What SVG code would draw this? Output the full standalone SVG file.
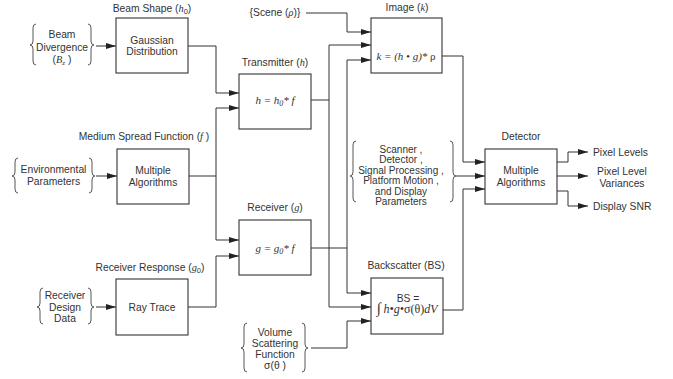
<svg xmlns="http://www.w3.org/2000/svg" width="673" height="379" viewBox="0 0 673 379">
<defs>
<marker id="ah" viewBox="0 0 10 6" refX="10" refY="3" markerWidth="10" markerHeight="6" markerUnits="userSpaceOnUse" orient="auto">
<path d="M0,0 L10,3 L0,6 z" fill="#222"/>
</marker>
<style>
.box{fill:#fff;stroke:#333;stroke-width:1.1}
.ln{fill:none;stroke:#333;stroke-width:1}
.ar{fill:none;stroke:#333;stroke-width:1;marker-end:url(#ah)}
.br{fill:none;stroke:#444;stroke-width:0.9}
.t{font-family:"Liberation Sans",Arial,sans-serif;font-size:10.3px;fill:#333;text-anchor:middle}
.ts{font-family:"Liberation Sans",Arial,sans-serif;font-size:10px;fill:#333;text-anchor:middle}
.tl{font-family:"Liberation Sans",Arial,sans-serif;font-size:10.3px;fill:#333;text-anchor:start}
.m{font-family:"Liberation Serif","Times New Roman",serif;font-size:11px;fill:#333;text-anchor:middle;font-style:italic}
.i{font-family:"Liberation Serif","Times New Roman",serif;font-style:italic}
</style>
</defs>

<g id="connectors">
<path class="ar" d="M96,46 H116"/>
<path class="ar" d="M188,46 H216 V93 H239"/>
<path class="ln" d="M189,176 H216"/>
<path class="ln" d="M216,108 V240"/>
<path class="ar" d="M216,108 H239"/>
<path class="ar" d="M216,240 H239"/>
<path class="ar" d="M96,176 H117"/>
<path class="ar" d="M96,307 H116"/>
<path class="ar" d="M188,307 H216 V256 H239"/>
<path class="ln" d="M311,100 H329"/>
<path class="ln" d="M329,45 V307"/>
<path class="ar" d="M329,45 H371"/>
<path class="ar" d="M329,307 H371"/>
<path class="ln" d="M311,248 H347"/>
<path class="ln" d="M347,60 V293"/>
<path class="ar" d="M347,60 H371"/>
<path class="ar" d="M347,293 H371"/>
<path class="ar" d="M306,13 H347 V32 H371"/>
<path class="ar" d="M311,348 H347 V321 H371"/>
<path class="ar" d="M442,56 H463 V162 H485"/>
<path class="ar" d="M443,310 H463 V189 H485"/>
<path class="ar" d="M456,176 H485"/>
<path class="ar" d="M557,162 H568 V152 H588"/>
<path class="ar" d="M557,176 H588"/>
<path class="ar" d="M557,191 H568 V206 H588"/>
</g>

<g id="beam-divergence">
<path class="br" d="M36,24 Q33,24 33,28 L33,41 Q33,45 30,45 Q33,45 33,49 L33,61 Q33,65 36,65"/>
<path class="br" d="M88,24 Q91,24 91,28 L91,41 Q91,45 94,45 Q91,45 91,49 L91,61 Q91,65 88,65"/>
<text class="t" x="62" y="38">Beam</text>
<text class="t" x="62" y="50.5">Divergence</text>
<text class="t" x="62" y="63">(<tspan class="i">B</tspan><tspan class="i" font-size="7" dy="2">z</tspan><tspan dy="-2"> )</tspan></text>
</g>

<g id="beam-shape">
<text class="t" x="152" y="12">Beam Shape (<tspan class="i">h</tspan><tspan font-size="7.5" dy="2">0</tspan><tspan dy="-2">)</tspan></text>
<rect class="box" x="116" y="18" width="72" height="55"/>
<text class="t" x="152" y="43.5">Gaussian</text>
<text class="t" x="152" y="55">Distribution</text>
</g>

<g id="environmental">
<path class="br" d="M18,158 Q15,158 15,162 L15,172 Q15,176 12,176 Q15,176 15,180 L15,189 Q15,193 18,193"/>
<path class="br" d="M89,158 Q92,158 92,162 L92,172 Q92,176 95,176 Q92,176 92,180 L92,189 Q92,193 89,193"/>
<text class="t" x="53.5" y="173">Environmental</text>
<text class="t" x="53.5" y="185">Parameters</text>
</g>

<g id="medium">
<text class="t" x="144" y="140">Medium Spread Function (<tspan class="i">f</tspan> )</text>
<rect class="box" x="117" y="149" width="72" height="55"/>
<text class="t" x="153" y="174">Multiple</text>
<text class="t" x="153" y="185.5">Algorithms</text>
</g>

<g id="receiver-design">
<path class="br" d="M43,288 Q40,288 40,292 L40,303 Q40,307 37,307 Q40,307 40,311 L40,320 Q40,324 43,324"/>
<path class="br" d="M88,288 Q91,288 91,292 L91,303 Q91,307 94,307 Q91,307 91,311 L91,320 Q91,324 88,324"/>
<text class="t" x="65" y="299">Receiver</text>
<text class="t" x="65" y="310.5">Design</text>
<text class="t" x="65" y="322">Data</text>
</g>

<g id="receiver-response">
<text class="t" x="150" y="271">Receiver Response (<tspan class="i">g</tspan><tspan font-size="7.5" dy="2">0</tspan><tspan dy="-2">)</tspan></text>
<rect class="box" x="116" y="279" width="72" height="56"/>
<text class="t" x="152" y="310.5">Ray Trace</text>
</g>

<g id="transmitter">
<text class="t" x="275" y="66">Transmitter (<tspan class="i">h</tspan>)</text>
<rect class="box" x="239" y="74" width="72" height="55"/>
<text class="m" x="275" y="104">h = h<tspan font-size="8" dy="2">0</tspan><tspan dy="-2">* f</tspan></text>
</g>

<g id="receiver">
<text class="t" x="275" y="211">Receiver (<tspan class="i">g</tspan>)</text>
<rect class="box" x="239" y="220" width="72" height="55"/>
<text class="m" x="275" y="251.5">g = g<tspan font-size="8" dy="2">0</tspan><tspan dy="-2">* f</tspan></text>
</g>

<g id="scene">
<text class="t" x="275" y="15.5">{Scene (<tspan class="i">ρ</tspan>)}</text>
</g>

<g id="image">
<text class="t" x="407" y="11">Image (<tspan class="i">k</tspan>)</text>
<rect class="box" x="371" y="18" width="71" height="55"/>
<text class="m" x="406" y="59.5">k = (h • g)* <tspan font-style="normal">ρ</tspan></text>
</g>

<g id="scanner">
<path class="br" d="M356,141 Q353,141 353,145 L353,172 Q353,176 350,176 Q353,176 353,180 L353,198 Q353,202 356,202"/>
<path class="br" d="M450,141 Q453,141 453,145 L453,172 Q453,176 456,176 Q453,176 453,180 L453,198 Q453,202 450,202"/>
<text class="ts" x="401" y="152.5">Scanner ,</text>
<text class="ts" x="401" y="163">Detector ,</text>
<text class="ts" x="401" y="173.5">Signal Processing  ,</text>
<text class="ts" x="401" y="184">Platform Motion  ,</text>
<text class="ts" x="401" y="194.5">and Display</text>
<text class="ts" x="401" y="205">Parameters</text>
</g>

<g id="volume-scattering">
<path class="br" d="M247,323 Q244,323 244,327 L244,344 Q244,348 241,348 Q244,348 244,352 L244,368 Q244,372 247,372"/>
<path class="br" d="M302,323 Q305,323 305,327 L305,344 Q305,348 308,348 Q305,348 305,352 L305,368 Q305,372 302,372"/>
<text class="t" x="275" y="336">Volume</text>
<text class="t" x="275" y="347">Scattering</text>
<text class="t" x="275" y="358">Function</text>
<text class="t" x="275" y="369">σ(θ )</text>
</g>

<g id="backscatter">
<text class="t" x="406" y="269">Backscatter (BS)</text>
<rect class="box" x="371" y="278" width="72" height="56"/>
<text class="t" x="408" y="301.5">BS =</text>
<text class="m" x="407" y="313" style="font-size:12px"><tspan style="font-size:15px;font-style:normal">∫</tspan> h•g•<tspan font-style="normal">σ(θ)</tspan>dV</text>
</g>

<g id="detector">
<text class="t" x="521" y="140">Detector</text>
<rect class="box" x="485" y="149" width="72" height="55"/>
<text class="t" x="521" y="174">Multiple</text>
<text class="t" x="521" y="185.5">Algorithms</text>
</g>

<g id="outputs">
<text class="tl" x="593" y="155.5">Pixel Levels</text>
<text class="t" x="622" y="175">Pixel Level</text>
<text class="t" x="622" y="186.5">Variances</text>
<text class="tl" x="593" y="209.5">Display SNR</text>
</g>
</svg>
